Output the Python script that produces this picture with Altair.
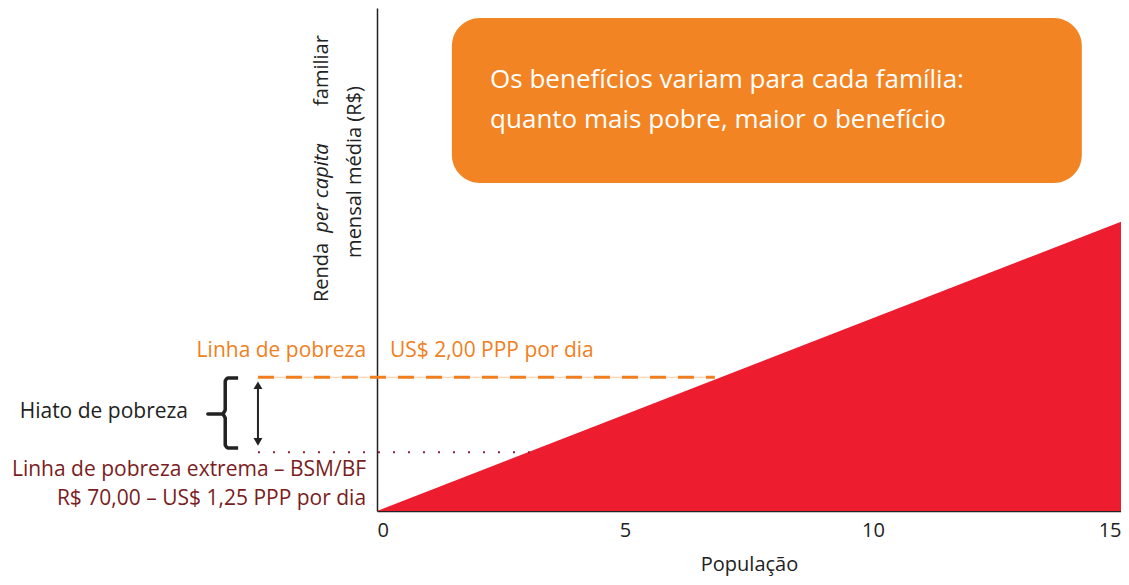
import altair as alt
import pandas as pd

FONT = "Open Sans"

# Data (in chart units: x = população 0..15, y = renda 0..100)
area_x = [0, 15]
area_y = [0, 57.5]

poverty_line_y = 26.6       # Linha de pobreza (US$ 2,00 PPP)
extreme_line_y = 11.7       # Linha de pobreza extrema (US$ 1,25 PPP)
line_start_x = -2.40
poverty_line_end_x = 6.81
extreme_line_end_x = 3.08

x_ticks = [0, 5, 10, 15]

box_x = [1.51, 14.21]
box_y = [65.2, 98.0]
box_lines = ["Os benefícios variam para cada família:",
             "quanto mais pobre, maior o benefício"]
box_line_y = [85.7, 77.7]
box_text_x = 2.28

brace_x = [-2.80, -3.00, -3.06, -3.06, -3.13, -3.41, -3.13, -3.06, -3.06, -3.00, -2.80]
brace_y = [26.44, 26.44, 25.84, 20.08, 19.28, 19.28, 19.28, 18.49, 13.12, 12.52, 12.52]

xs = alt.Scale(domain=[0, 15], nice=False, zero=False)
ys = alt.Scale(domain=[0, 100], nice=False, zero=False)

X = lambda f: alt.X(f, type="quantitative", scale=xs)
Y = lambda f: alt.Y(f, type="quantitative", scale=ys)

area = alt.Chart(pd.DataFrame({"x": area_x, "y": area_y})).mark_area(
    color="#ED1C2E", clip=False
).encode(
    x=alt.X("x:Q", scale=xs,
            axis=alt.Axis(values=x_ticks, ticks=False, grid=False, domainColor="#222",
                          domainWidth=1.5, labelFontSize=20, labelFont=FONT,
                          labelColor="#222", labelPadding=9, labelFlush=True,
                          title="População", titleFont=FONT, titleFontSize=20,
                          titleFontWeight="normal", titleColor="#222", titlePadding=14)),
    y=alt.Y("y:Q", scale=ys,
            axis=alt.Axis(labels=False, ticks=False, grid=False, title=None,
                          domainColor="#222", domainWidth=1.5)),
)

box = alt.Chart(pd.DataFrame({"x": [box_x[0]], "x2": [box_x[1]],
                              "y": [box_y[0]], "y2": [box_y[1]]})).mark_rect(
    color="#F38423", cornerRadius=28
).encode(x=X("x"), x2="x2", y=Y("y"), y2="y2")

box_text = alt.Chart(pd.DataFrame({"x": [box_text_x] * 2, "y": box_line_y,
                                   "t": box_lines})).mark_text(
    align="left", baseline="middle", font=FONT, fontSize=26, color="white"
).encode(x=X("x"), y=Y("y"), text="t:N")

poverty_rule = alt.Chart(pd.DataFrame({"x": [line_start_x], "x2": [poverty_line_end_x],
                                       "y": [poverty_line_y]})).mark_rule(
    color="#F07F22", strokeWidth=3, strokeDash=[16, 12]
).encode(x=X("x"), x2="x2", y=Y("y"))

poverty_thin = alt.Chart(pd.DataFrame({"x": [line_start_x], "x2": [poverty_line_end_x],
                                       "y": [poverty_line_y]})).mark_rule(
    color="#F6C9A0", strokeWidth=1
).encode(x=X("x"), x2="x2", y=Y("y"))

extreme_rule = alt.Chart(pd.DataFrame({"x": [line_start_x], "x2": [extreme_line_end_x],
                                       "y": [extreme_line_y]})).mark_rule(
    color="#8B2332", strokeWidth=2, strokeDash=[2, 13]
).encode(x=X("x"), x2="x2", y=Y("y"))

arrow = alt.Chart(pd.DataFrame({"x": [line_start_x], "y": [24.5], "y2": [14.2]})).mark_rule(
    color="#222", strokeWidth=2
).encode(x=X("x"), y=Y("y"), y2="y2")

arrow_heads = alt.Chart(pd.DataFrame({"x": [line_start_x, line_start_x],
                                      "y": [25.0, 13.75],
                                      "s": ["triangle-up", "triangle-down"]})).mark_point(
    filled=True, color="#222", size=80, opacity=1
).encode(x=X("x"), y=Y("y"), shape=alt.Shape("s:N", scale=None, legend=None))

brace = alt.Chart(pd.DataFrame({"x": brace_x, "y": brace_y,
                                "o": list(range(len(brace_x)))})).mark_line(
    color="#222", strokeWidth=3.5, strokeJoin="round", interpolate="monotone"
).encode(x=X("x"), y=Y("y"), order="o:Q")

labels_df = pd.DataFrame({
    "x": [-0.22, 0.26, -0.22, -0.22, -3.81],
    "y": [31.8, 31.8, 8.15, 2.39, 19.7],
    "t": ["Linha de pobreza", "US$ 2,00 PPP por dia",
          "Linha de pobreza extrema – BSM/BF", "R$ 70,00 – US$ 1,25 PPP por dia",
          "Hiato de pobreza"],
    "a": ["right", "left", "right", "right", "right"],
    "c": ["#F07F22", "#F07F22", "#7A1C22", "#7A1C22", "#222222"],
})
labels = []
for _, r in labels_df.iterrows():
    labels.append(alt.Chart(pd.DataFrame([r])).mark_text(
        align=r["a"], baseline="middle", font=FONT, fontSize=21, color=r["c"]
    ).encode(x=X("x"), y=Y("y"), text="t:N"))

ytitle_df = pd.DataFrame({
    "x": [-1.11, -1.11, -1.11],
    "y": [41.55, 64.2, 94.6],
    "t": ["Renda", "per capita", "familiar"],
    "st": ["normal", "italic", "normal"],
    "a": ["left", "center", "right"],
})
ytitle = []
for _, r in ytitle_df.iterrows():
    ytitle.append(alt.Chart(pd.DataFrame([r])).mark_text(
        align=r["a"], baseline="middle", angle=270, font=FONT, fontSize=20,
        fontStyle=r["st"], color="#222"
    ).encode(x=X("x"), y=Y("y"), text="t:N"))
ytitle.append(alt.Chart(pd.DataFrame({"x": [-0.44], "y": [67.4],
                                      "t": ["mensal média (R$)"]})).mark_text(
    align="center", baseline="middle", angle=270, font=FONT, fontSize=20, color="#222"
).encode(x=X("x"), y=Y("y"), text="t:N"))

chart = alt.layer(
    area, box, box_text, poverty_thin, poverty_rule, extreme_rule,
    arrow, arrow_heads, brace, *labels, *ytitle
).properties(
    width=744, height=503,
    autosize=alt.AutoSizeParams(type="none"),
    padding={"left": 369, "top": 0, "right": 0, "bottom": 65},
).configure_view(stroke=None)

chart.save("out.html", embed_options={"renderer": "svg", "actions": False})
